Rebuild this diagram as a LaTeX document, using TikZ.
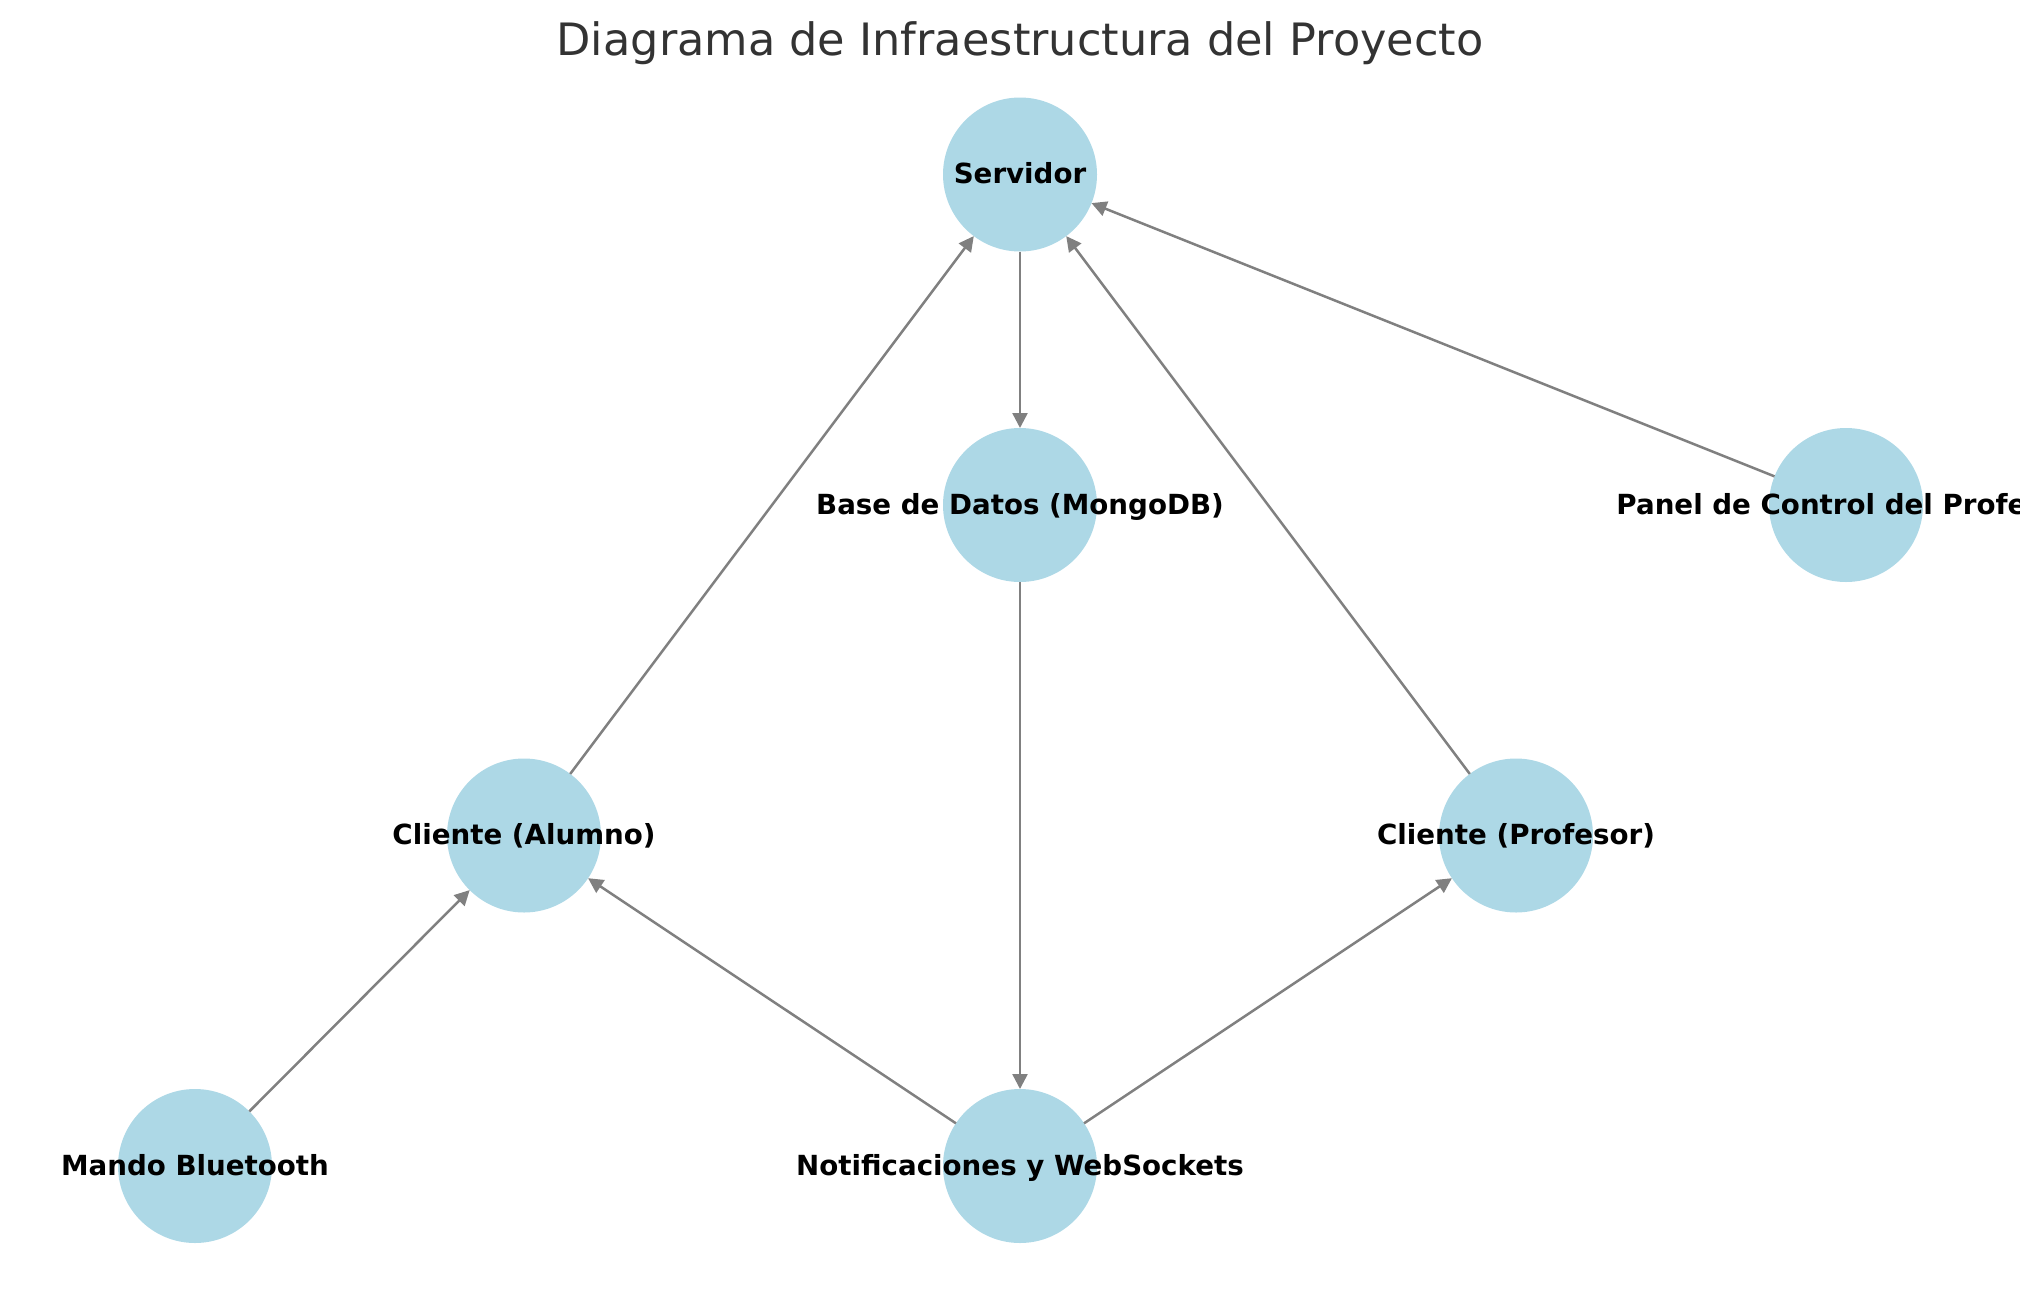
\documentclass[tikz,border=0pt]{standalone}
\usepackage{fontspec}
\setmainfont{DejaVu Sans}
\usetikzlibrary{arrows.meta}
\definecolor{nodeblue}{HTML}{ADD8E6}
\definecolor{edgegray}{HTML}{808080}
\definecolor{titlegray}{HTML}{333333}
\begin{document}
\begin{tikzpicture}[x=0.5pt,y=-0.5pt,
  vert/.style={circle,fill=nodeblue,minimum size=77pt,inner sep=0pt,outer sep=0pt},
  lbl/.style={font=\fontsize{13.85pt}{16pt}\selectfont\bfseries,text=black,inner sep=0pt,anchor=base},
  edge/.style={draw=edgegray,line width=1.25pt,-{Triangle[length=7.5pt,width=7.5pt]}},
  ttl/.style={font=\fontsize{22.3pt}{27pt}\selectfont,text=titlegray,inner sep=0pt,anchor=base}]
\useasboundingbox (0,0) rectangle (2039,1290);
% nodes
\node[vert] (srv) at (1020,174.5) {};
\node[vert] (bd) at (1020,505) {};
\node[vert] (panel) at (1846,505) {};
\node[vert] (alu) at (524,835.5) {};
\node[vert] (prof) at (1516,835.5) {};
\node[vert] (mando) at (195,1166) {};
\node[vert] (notif) at (1020,1166) {};
% edges
\draw[edge] (alu) -- (srv);
\draw[edge] (srv) -- (bd);
\draw[edge] (prof) -- (srv);
\draw[edge] (panel) -- (srv);
\draw[edge] (bd) -- (notif);
\draw[edge] (notif) -- (alu);
\draw[edge] (notif) -- (prof);
\draw[edge] (mando) -- (alu);
% labels (clipped at the plot edge, as in the reference)
\begin{scope}
\clip (0,0) rectangle (2019,1290);
\node[lbl] (lsrv) at (1020,183.5) {Servidor};
\node[lbl] (lbd) at (1020,514) {Base de Datos (MongoDB)};
\node[lbl] (lpanel) at (1846,514) {Panel de Control del Profesor};
\node[lbl] (lalu) at (524,844.5) {Cliente (Alumno)};
\node[lbl] (lprof) at (1516,844.5) {Cliente (Profesor)};
\node[lbl] (lmando) at (195,1175) {Mando Bluetooth};
\node[lbl] (lnotif) at (1020,1175) {Notificaciones y WebSockets};
\end{scope}
% title
\node[ttl] (title) at (1020,55) {Diagrama de Infraestructura del Proyecto};
\end{tikzpicture}
\end{document}
